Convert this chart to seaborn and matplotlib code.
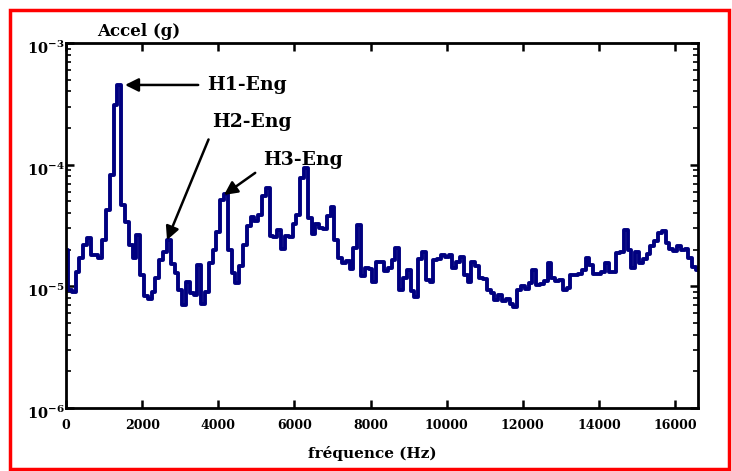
import numpy as np
import pandas as pd
import matplotlib
matplotlib.use("Agg")
import matplotlib.pyplot as plt
import matplotlib.transforms as mtransforms
from matplotlib.patches import Rectangle
from matplotlib.ticker import FixedLocator, LogLocator, NullFormatter, FuncFormatter
import seaborn as sns

# ---------------- data ----------------
freq_step_hz = 100
# acceleration in units of 1e-5 g, one value per 100 Hz bin starting at 0 Hz
accel_1e5 = [
    1.99, 0.934, 0.899, 1.31, 1.71, 2.19, 2.50, 1.81, 1.81, 1.71,
    2.41, 4.24, 8.23, 30.9, 45.2, 4.67, 3.38, 2.19, 1.71, 2.65,
    1.24, 0.834, 0.788, 0.899, 1.17, 1.65, 1.92, 2.41, 1.53, 1.29,
    0.934, 0.703, 1.09, 0.883, 0.850, 1.50, 0.717, 0.899, 1.56, 1.99,
    2.80, 5.13, 5.74, 1.99, 1.29, 1.07, 1.47, 2.19, 3.14, 3.72,
    3.45, 3.86, 5.53, 6.43, 2.60, 2.55, 2.91, 2.03, 2.60, 2.55,
    3.26, 3.86, 7.78, 9.40, 3.65, 2.70, 3.26, 3.02, 2.96, 3.79,
    4.49, 2.41, 1.71, 1.56, 1.62, 1.39, 2.07, 3.20, 1.22, 1.42,
    1.39, 1.09, 1.59, 1.59, 1.34, 1.42, 1.65, 2.07, 0.934, 1.17,
    1.36, 0.917, 0.818, 1.68, 1.92, 1.13, 1.09, 1.65, 1.68, 1.81,
    1.74, 1.81, 1.42, 1.59, 1.74, 1.24, 1.09, 1.59, 1.47, 1.17,
    1.15, 0.934, 0.883, 0.773, 0.850, 0.759, 0.788, 0.717, 0.677, 0.934,
    1.01, 0.952, 1.07, 1.36, 1.03, 1.05, 1.11, 1.56, 1.17, 1.11,
    1.13, 0.934, 0.970, 1.24, 1.24, 1.26, 1.36, 1.71, 1.50, 1.26,
    1.26, 1.31, 1.56, 1.31, 1.31, 1.88, 1.92, 2.91, 1.99, 1.42,
    1.92, 1.56, 1.68, 1.85, 2.15, 2.36, 2.75, 2.85, 2.27, 2.03,
    1.95, 2.15, 1.99, 2.03, 1.71, 1.44, 1.36,
]
freq_hz = np.arange(len(accel_1e5)) * freq_step_hz
accel_g = np.array(accel_1e5) * 1e-5

x_ticks = [0, 2000, 4000, 6000, 8000, 10000, 12000, 14000, 16000]
y_ticks = [1e-6, 1e-5, 1e-4, 1e-3]

labels = ["H1-Eng", "H2-Eng", "H3-Eng"]
label_targets_hz = [1550, 2653, 4151]
label_targets_g = [4.52e-4, 2.40e-5, 5.64e-5]
label_text_hz = [3704, 3835, 5175]
label_text_g = [4.52e-4, 2.24e-4, 1.09e-4]

df = pd.DataFrame({"freq": freq_hz, "accel": accel_g})

# ---------------- style ----------------
sns.set_theme(style="ticks")
plt.rcParams["font.family"] = ["DejaVu Serif", "DejaVu Sans"]
plt.rcParams["font.weight"] = "bold"
plt.rcParams["text.color"] = "black"
plt.rcParams["axes.labelcolor"] = "black"
plt.rcParams["xtick.color"] = "black"
plt.rcParams["ytick.color"] = "black"
plt.rcParams["mathtext.fontset"] = "custom"
plt.rcParams["mathtext.rm"] = "DejaVu Serif:bold"
plt.rcParams["mathtext.it"] = "DejaVu Serif:bold"
plt.rcParams["mathtext.bf"] = "DejaVu Serif:bold"
plt.rcParams["mathtext.default"] = "rm"

fig = plt.figure(figsize=(7.32, 4.71), dpi=100)
fig.patch.set_facecolor("white")
ax = fig.add_axes([66 / 732, 1 - 408 / 471, 632 / 732, 365 / 471])
ax.set_facecolor("white")

sns.lineplot(data=df, x="freq", y="accel", ax=ax, color="#000080",
             linewidth=2.8, drawstyle="steps-mid", legend=False)

ax.set_yscale("log")
ax.set_xlim(0, 16600)
ax.set_ylim(1e-6, 1e-3)

ax.xaxis.set_major_locator(FixedLocator(x_ticks))
ax.set_xticklabels([str(t) for t in x_ticks], fontsize=9, fontweight="bold",
                   color="black")
ax.yaxis.set_major_locator(FixedLocator(y_ticks))
ax.yaxis.set_minor_locator(LogLocator(base=10, subs=np.arange(2, 10)))
ax.yaxis.set_minor_formatter(NullFormatter())
ax.yaxis.set_major_formatter(FuncFormatter(
    lambda v, _: r"$10^{%d}$" % int(round(np.log10(v)))))

for side in ["left", "right", "top", "bottom"]:
    ax.spines[side].set_visible(True)
    ax.spines[side].set_color("black")
    ax.spines[side].set_linewidth(2.0)

ax.tick_params(axis="both", which="major", direction="in", length=6, width=1.8,
               top=True, right=True, colors="black", labelcolor="black")
ax.tick_params(axis="y", which="minor", direction="in", length=3.5, width=1.2,
               left=True, right=True, colors="black")
ax.tick_params(axis="x", which="major", pad=8)
ax.tick_params(axis="y", which="major", pad=1, labelsize=10.5)

# shift y tick labels slightly down, as in the reference
offset = mtransforms.ScaledTranslation(0, -4 / 100, fig.dpi_scale_trans)
for lab in ax.get_yticklabels():
    lab.set_transform(lab.get_transform() + offset)
    lab.set_color("black")

ax.set_xlabel("fréquence (Hz)", fontsize=11, fontweight="bold", color="black")
ax.xaxis.set_label_coords(0.484, -0.104)
ax.set_ylabel("")
fig.text(97 / 732, 1 - 31 / 471, "Accel (g)", fontsize=12, fontweight="bold",
         ha="left", va="center", color="black")

relpos = [(0.0, 0.5), (0.0, 0.0), (0.0, 0.1)]
for txt, tx, ty, px, py, rp in zip(labels, label_text_hz, label_text_g,
                                   label_targets_hz, label_targets_g, relpos):
    ax.annotate(txt, xy=(px, py), xytext=(tx, ty), ha="left", va="center",
                fontsize=13.5, fontweight="bold", color="black",
                arrowprops=dict(arrowstyle="-|>", color="black", lw=1.8,
                                mutation_scale=20, shrinkA=4, shrinkB=0,
                                relpos=rp))

# red frame around the figure
fig.patches.append(Rectangle((10 / 732, 2 / 471), (729 - 10) / 732, (469 - 10) / 471,
                             transform=fig.transFigure, fill=False,
                             edgecolor="#ff0000", linewidth=2.5))

fig.savefig("out.png", dpi=100)
